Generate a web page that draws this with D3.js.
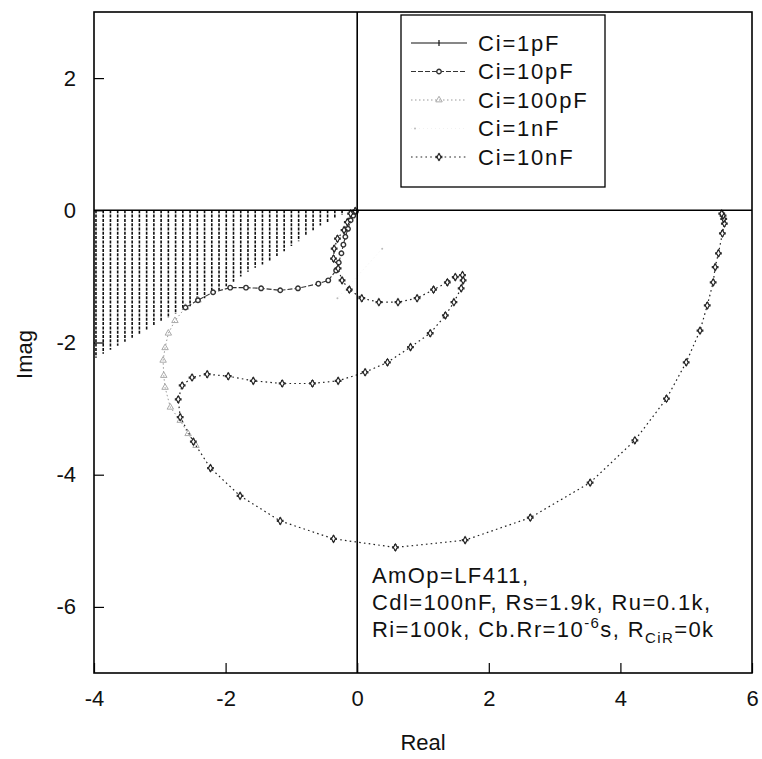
<!DOCTYPE html>
<html>
<head>
<meta charset="utf-8">
<script src="https://cdn.jsdelivr.net/npm/d3@7"></script>
<style>
  html, body { margin: 0; padding: 0; background: #fff; }
  svg { display: block; }
  text { font-family: "Liberation Sans", Arial, Helvetica, sans-serif; fill: #111; }
</style>
</head>
<body>
<svg id="chart" width="762" height="759"></svg>
<script>
// ---- Nyquist data: real / imaginary parts for each input capacitance ----

// Ci = 1pF : fast oscillating trace, drawn as vertical strokes from Imag=0 down to its lower envelope
const c1pReal = [-3.97, -3.86, -3.75, -3.64, -3.53, -3.42, -3.31, -3.20, -3.09, -2.98, -2.87, -2.76,
                 -2.65, -2.54, -2.43, -2.32, -2.21, -2.10, -1.99, -1.88, -1.77, -1.66, -1.55, -1.44,
                 -1.33, -1.22, -1.11, -1.00, -0.89, -0.78, -0.67, -0.56, -0.45, -0.34, -0.23, -0.12];
const c1pImagTop = [0, 0, 0, 0, 0, 0, 0, 0, 0, 0, 0, 0, 0, 0, 0, 0, 0, 0,
                    0, 0, 0, 0, 0, 0, 0, 0, 0, 0, 0, 0, 0, 0, 0, 0, 0, 0];
const c1pImagLow = [-2.23, -2.17, -2.11, -2.05, -1.99, -1.93, -1.87, -1.81, -1.75, -1.69, -1.63, -1.57,
                    -1.51, -1.45, -1.39, -1.33, -1.27, -1.21, -1.15, -1.08, -1.00, -0.93, -0.87, -0.82,
                    -0.76, -0.69, -0.62, -0.54, -0.47, -0.38, -0.30, -0.23, -0.18, -0.13, -0.07, -0.02];

// Ci = 10pF
const c10pReal = [-0.02, -0.06, -0.10, -0.14, -0.18, -0.21, -0.24, -0.28, -0.32, -0.44, -0.59, -0.90,
                  -1.17, -1.46, -1.69, -1.93, -2.19, -2.42, -2.61];
const c10pImag = [-0.02, -0.08, -0.15, -0.28, -0.40, -0.52, -0.65, -0.79, -0.91, -1.06, -1.11, -1.18,
                  -1.21, -1.18, -1.17, -1.17, -1.24, -1.36, -1.47];

// Ci = 100pF
const c100pReal = [-2.42, -2.61, -2.77, -2.87, -2.92, -2.95, -2.94, -2.92, -2.84, -2.69, -2.57, -2.45];
const c100pImag = [-1.36, -1.47, -1.67, -1.86, -2.08, -2.27, -2.50, -2.68, -2.98, -3.18, -3.38, -3.56];

// Ci = 1nF (barely visible trace)
const c1nReal = [0.38, -0.30];
const c1nImag = [-0.58, -1.33];

// Ci = 10nF
const c10nReal = [-0.03, -0.10, -0.15, -0.20, -0.30, -0.35, -0.36, -0.29, -0.23, -0.12, 0.07, 0.33,
                  0.62, 0.91, 1.16, 1.37, 1.49, 1.60, 1.61, 1.58, 1.47, 1.34, 1.11, 0.81,
                  0.46, 0.12, -0.29, -0.68, -1.14, -1.58, -1.96, -2.28, -2.51, -2.66, -2.72, -2.69,
                  -2.49, -2.23, -1.78, -1.17, -0.36, 0.58, 1.64, 2.63, 3.54, 4.22, 4.70, 5.00,
                  5.21, 5.32, 5.41, 5.44, 5.49, 5.55, 5.58, 5.57, 5.56, 5.54];
const c10nImag = [-0.01, -0.05, -0.18, -0.30, -0.43, -0.58, -0.73, -0.88, -1.06, -1.20, -1.33, -1.39,
                  -1.39, -1.33, -1.20, -1.09, -1.01, -0.98, -1.06, -1.18, -1.39, -1.59, -1.86, -2.07,
                  -2.30, -2.45, -2.58, -2.62, -2.62, -2.58, -2.51, -2.48, -2.53, -2.65, -2.86, -3.13,
                  -3.50, -3.90, -4.32, -4.70, -4.97, -5.10, -4.99, -4.65, -4.12, -3.48, -2.85, -2.30,
                  -1.82, -1.44, -1.09, -0.86, -0.65, -0.35, -0.20, -0.13, -0.08, -0.05];

const legendLabels = ["Ci=1pF", "Ci=10pF", "Ci=100pF", "Ci=1nF", "Ci=10nF"];
const xTicks = [-4, -2, 0, 2, 4, 6];
const yTicks = [-6, -4, -2, 0, 2];
const xDomain = [-4, 6];
const yDomain = [-7, 3];
const noteLines = ["AmOp=LF411,", "Cdl=100nF, Rs=1.9k, Ru=0.1k,"];

// ---- layout ----
const svg = d3.select("#chart");
const L = 94, R = 752, T = 12, B = 673;
const x = d3.scaleLinear().domain(xDomain).range([L, R]);
const y = d3.scaleLinear().domain(yDomain).range([B, T]);
const pts = (re, im) => re.map((v, i) => [v, im[i]]);
const line = d3.line().x(d => x(d[0])).y(d => y(d[1]));

svg.append("defs").append("clipPath").attr("id", "plotClip")
  .append("rect").attr("x", L).attr("y", T).attr("width", R - L).attr("height", B - T);

const plot = svg.append("g").attr("clip-path", "url(#plotClip)");

// series styles
const styles = {
  "Ci=1pF":   { stroke: "#111", width: 1.2, dash: null },
  "Ci=10pF":  { stroke: "#333", width: 1.1, dash: "5,2" },
  "Ci=100pF": { stroke: "#9a9a9a", width: 1.0, dash: "1.5,2.5" },
  "Ci=1nF":   { stroke: "#f2f2f2", width: 1.0, dash: "1,3" },
  "Ci=10nF":  { stroke: "#222", width: 1.2, dash: "1.6,3.2" }
};

// marker shapes
const crossSym = d3.symbol().type(d3.symbolCross).size(26);
const diamondSym = d3.symbol().type(d3.symbolDiamond).size(14);
const circleSym = d3.symbol().type(d3.symbolCircle).size(16);
const triSym = d3.symbol().type(d3.symbolTriangle).size(18);

function drawMarker(g, kind, px, py) {
  if (kind === "Ci=10nF") {
    g.append("path").attr("d", crossSym()).attr("transform", `translate(${px},${py}) rotate(0)`)
      .attr("fill", "#333");
    g.append("path").attr("d", diamondSym()).attr("transform", `translate(${px},${py})`)
      .attr("fill", "#fff").attr("stroke", "#222").attr("stroke-width", 1.1);
  } else if (kind === "Ci=10pF") {
    g.append("path").attr("d", circleSym()).attr("transform", `translate(${px},${py})`)
      .attr("fill", "#fff").attr("stroke", "#333").attr("stroke-width", 1.4);
  } else if (kind === "Ci=100pF") {
    g.append("path").attr("d", triSym()).attr("transform", `translate(${px},${py})`)
      .attr("fill", "none").attr("stroke", "#aaa").attr("stroke-width", 1);
  } else if (kind === "Ci=1nF") {
    g.append("circle").attr("cx", px).attr("cy", py).attr("r", 1)
      .attr("fill", "#bbb");
  } else if (kind === "Ci=1pF") {
    g.append("line").attr("x1", px).attr("x2", px).attr("y1", py - 3).attr("y2", py + 3)
      .attr("stroke", "#111").attr("stroke-width", 1.2);
  }
}

// Ci=1pF strokes
plot.append("g").selectAll("line")
  .data(c1pReal.map((v, i) => ({ re: v, top: c1pImagTop[i], low: c1pImagLow[i] })))
  .join("line")
  .attr("x1", d => x(d.re)).attr("x2", d => x(d.re))
  .attr("y1", d => y(d.top)).attr("y2", d => y(d.low))
  .attr("stroke", "#111").attr("stroke-width", 1.6)
  .attr("stroke-dasharray", "3,1.3");

// remaining series as polylines
const series = [
  ["Ci=100pF", pts(c100pReal, c100pImag)],
  ["Ci=1nF", pts(c1nReal, c1nImag)],
  ["Ci=10pF", pts(c10pReal, c10pImag)],
  ["Ci=10nF", pts(c10nReal, c10nImag)]
];
series.forEach(([name, data]) => {
  const st = styles[name];
  plot.append("path").datum(data)
    .attr("d", line)
    .attr("fill", "none")
    .attr("stroke", st.stroke)
    .attr("stroke-width", st.width)
    .attr("stroke-dasharray", st.dash);
  const mg = plot.append("g");
  data.forEach(d => drawMarker(mg, name, x(d[0]), y(d[1])));
});

// ---- frame and zero lines ----
svg.append("rect").attr("x", L).attr("y", T).attr("width", R - L).attr("height", B - T)
  .attr("fill", "none").attr("stroke", "#000").attr("stroke-width", 1.6);
svg.append("line").attr("x1", x(0)).attr("x2", x(0)).attr("y1", T).attr("y2", B)
  .attr("stroke", "#000").attr("stroke-width", 1.6);
svg.append("line").attr("x1", L).attr("x2", R).attr("y1", y(0)).attr("y2", y(0))
  .attr("stroke", "#000").attr("stroke-width", 1.6);

// ---- axes ----
const fmt = d => String(d);
const gx = svg.append("g").attr("transform", `translate(0,${B})`)
  .call(d3.axisBottom(x).tickValues(xTicks).tickSize(-10).tickPadding(17).tickFormat(fmt));
const gy = svg.append("g").attr("transform", `translate(${L},0)`)
  .call(d3.axisLeft(y).tickValues(yTicks).tickSize(-10).tickPadding(18).tickFormat(fmt));
[gx, gy].forEach(g => {
  g.select(".domain").remove();
  g.selectAll(".tick line").attr("stroke", "#000").attr("stroke-width", 1.2);
  g.selectAll(".tick text").attr("font-size", 22).attr("fill", "#111")
    .style("font-family", "'Liberation Sans', Arial, sans-serif");
});

// axis titles
svg.append("text").attr("x", (L + R) / 2).attr("y", 750).attr("text-anchor", "middle")
  .attr("font-size", 22).text("Real");
svg.append("text").attr("transform", `translate(24,${(T + B) / 2 + 12}) rotate(-90)`)
  .attr("text-anchor", "middle").attr("dominant-baseline", "central")
  .attr("font-size", 22).text("Imag");

// ---- legend ----
const lg = svg.append("g");
lg.append("rect").attr("x", 401).attr("y", 15).attr("width", 204).attr("height", 172)
  .attr("fill", "#fff").attr("stroke", "#000").attr("stroke-width", 1.3);
legendLabels.forEach((name, i) => {
  const ly = 43 + i * 28.5;
  const st = styles[name];
  lg.append("line").attr("x1", 411).attr("x2", 467).attr("y1", ly).attr("y2", ly)
    .attr("stroke", st.stroke).attr("stroke-width", st.width)
    .attr("stroke-dasharray", st.dash);
  drawMarker(lg, name, name === "Ci=1nF" ? 415 : 439, ly);
  lg.append("text").attr("x", 478).attr("y", ly).attr("dominant-baseline", "central")
    .attr("font-size", 22).attr("letter-spacing", 1.8).text(name);
});

// ---- circuit parameters note ----
const note = svg.append("text").attr("font-size", 22).attr("letter-spacing", 1.4);
noteLines.forEach((t, i) => {
  note.append("tspan").attr("x", 372).attr("y", 583 + i * 27).text(t);
});
note.append("tspan").attr("x", 372).attr("y", 637).text("Ri=100k, Cb.Rr=10");
note.append("tspan").attr("dy", -9).attr("font-size", 15).text("-6");
note.append("tspan").attr("dy", 9).text("s, R");
note.append("tspan").attr("dy", 6).attr("font-size", 15).text("CiR");
note.append("tspan").attr("dy", -6).text("=0k");
</script>
</body>
</html>
